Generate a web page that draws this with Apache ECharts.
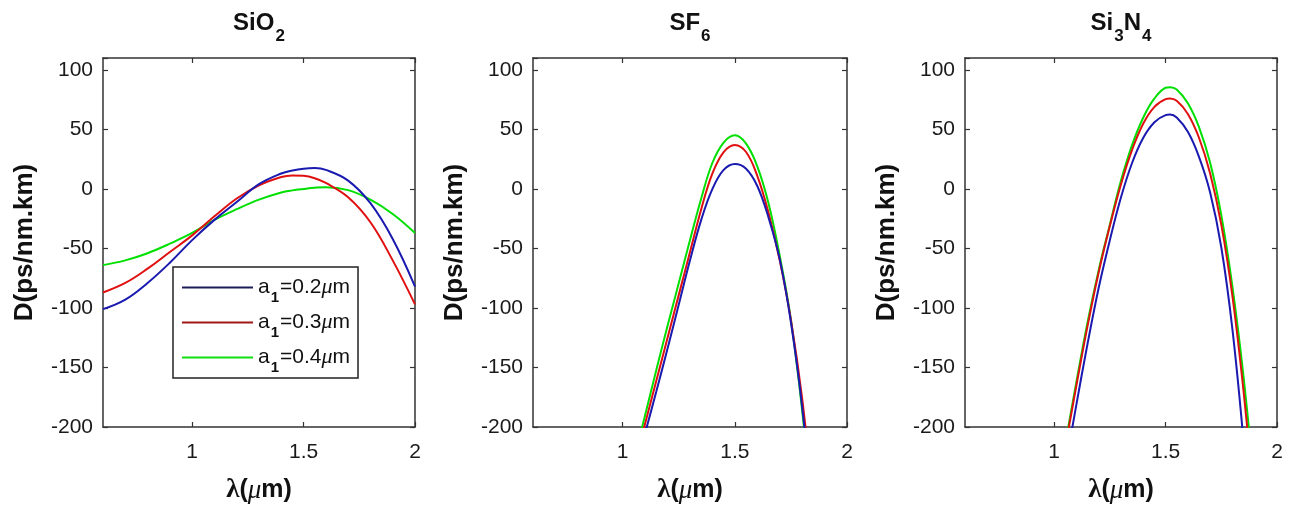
<!DOCTYPE html>
<html>
<head>
<meta charset="utf-8">
<script src="https://cdn.jsdelivr.net/npm/echarts@6/dist/echarts.min.js"></script>
<style>
html,body{margin:0;padding:0;background:#fff;}
#chart{width:1290px;height:510px;}
</style>
</head>
<body>
<div id="chart"></div>
<script>
// ---------- data ----------
const panelTitles = ['{b|SiO}{s|2}', '{b|SF}{s|6}', '{b|Si}{s|3}{b|N}{s|4}'];
const seriesNames = ['a1=0.2μm', 'a1=0.3μm', 'a1=0.4μm'];
const xTicks = [1, 1.5, 2];

// SiO2 panel
const lambdaSiO2 = [0.6, 0.7, 0.8, 0.9, 1.0, 1.1, 1.2, 1.3, 1.4, 1.45, 1.5, 1.55, 1.6, 1.7, 1.8, 1.9, 2.0];
const sio2A02 = [-101, -93, -79, -62, -43, -26, -11, 4, 13, 15.5, 17, 17.5, 16, 7, -12, -42, -82];
const sio2A03 = [-87, -79, -67, -53, -39, -23, -8, 3, 10, 11.3, 11, 9, 5, -7, -28, -60, -97];
const sio2A04 = [-64, -60, -54, -46, -37, -26, -17, -9, -3, -1.2, 0, 1, 1.5, -1, -9, -21, -37];

// SF6 panel
const lambdaSF6 = [1.05, 1.10, 1.15, 1.20, 1.25, 1.30, 1.35, 1.40, 1.45, 1.50, 1.55, 1.60, 1.65, 1.70, 1.75, 1.80, 1.85];
const sf6A02 = [-239, -205, -170, -134, -97, -60, -26, 0, 16, 21, 17, 2.5, -24, -59, -112, -183, -276];
const sf6A03 = [-233, -197, -161, -125, -89, -53, -17, 13, 31, 37, 31, 11, -20, -60, -110, -176, -263];
const sf6A04 = [-228, -190, -152, -115, -79, -43, -8, 22, 39, 45, 38, 19, -12, -56, -110, -186, -280];

// Si3N4 panel
const lambdaSi3N4 = [1.05, 1.10, 1.15, 1.20, 1.25, 1.30, 1.35, 1.40, 1.45, 1.50, 1.52, 1.55, 1.60, 1.65, 1.70, 1.75, 1.80, 1.85, 1.90];
const si3n4A02 = [-234, -181, -130, -83, -43, -7, 22, 43, 56, 62, 62.5, 60, 48, 27, -3, -49, -118, -212, -320];
const si3n4A03 = [-217, -165, -115, -70, -31, 4, 33, 55, 69, 75.4, 76, 74, 63, 43, 13, -30, -90, -170, -268];
const si3n4A04 = [-214, -162, -112, -68, -30, 7, 37, 60, 76, 85, 85.5, 83.5, 72, 52, 22, -22, -82, -158, -252];

// ---------- styling ----------
const SANS = '"Liberation Sans", Arial, Helvetica, sans-serif';
const SERIF = '"Liberation Serif", "Times New Roman", serif';
const lineColors = ['#1a1ab0', '#e01010', '#00e000'];
const legendColors = ['#1c1c5a', '#a01818', '#10e010'];
const axisColor = '#333';

const grids = [
  {left: 103, top: 58, width: 312, height: 369},
  {left: 533, top: 58, width: 314, height: 369},
  {left: 965, top: 58, width: 312, height: 369}
];

const panels = [
  {x: lambdaSiO2, ys: [sio2A02, sio2A03, sio2A04]},
  {x: lambdaSF6, ys: [sf6A02, sf6A03, sf6A04]},
  {x: lambdaSi3N4, ys: [si3n4A02, si3n4A03, si3n4A04]}
];

const xAxes = [], yAxes = [], series = [], titles = [];
grids.forEach((g, i) => {
  const tickBase = {inside: true, length: 5, lineStyle: {color: axisColor, width: 1.2}};
  xAxes.push({
    type: 'value', gridIndex: i, min: 0.6, max: 2, position: 'bottom',
    axisLine: {show: true, onZero: false, lineStyle: {color: axisColor, width: 1.5}},
    axisTick: Object.assign({customValues: xTicks}, tickBase),
    axisLabel: {customValues: xTicks, fontSize: 21, fontFamily: SANS, color: '#1a1a1a', margin: 15},
    splitLine: {show: false},
    name: '{g|λ}{b|(}{u|μ}{b|m)}',
    nameLocation: 'middle', nameGap: 50,
    nameTextStyle: {
      rich: {
        g: {fontFamily: SERIF, fontSize: 27, fontWeight: 'bold', color: '#111'},
        u: {fontFamily: SERIF, fontSize: 27, fontStyle: 'italic', color: '#111'},
        b: {fontFamily: SANS, fontSize: 25, fontWeight: 'bold', color: '#111'}
      }
    }
  });
  yAxes.push({
    type: 'value', gridIndex: i, min: -200, max: 110, interval: 50, position: 'left',
    axisLine: {show: true, onZero: false, lineStyle: {color: axisColor, width: 1.5}},
    axisTick: Object.assign({}, tickBase),
    axisLabel: {fontSize: 21, fontFamily: SANS, color: '#1a1a1a', margin: 10,
      formatter: v => (v > 100 ? '' : String(v))},
    splitLine: {show: false},
    name: 'D(ps/nm.km)', nameLocation: 'middle', nameGap: 65,
    nameTextStyle: {fontFamily: SANS, fontSize: 26, fontWeight: 'bold', color: '#111'}
  });
  titles.push({
    text: panelTitles[i], left: g.left + g.width / 2, textAlign: 'center', top: 9, padding: 0,
    textStyle: {
      rich: {
        b: {fontFamily: SANS, fontSize: 24, fontWeight: 'bold', color: '#111', lineHeight: 28},
        s: {fontFamily: SANS, fontSize: 17, fontWeight: 'bold', color: '#111', lineHeight: 15, padding: [26, 0, 0, 1]}
      }
    }
  });
});
// box: top and right axes with inside ticks
grids.forEach((g, i) => {
  xAxes.push({
    type: 'value', gridIndex: i, min: 0.6, max: 2, position: 'top',
    axisLine: {show: true, onZero: false, lineStyle: {color: axisColor, width: 1.5}},
    axisTick: {inside: true, length: 5, customValues: xTicks, lineStyle: {color: axisColor, width: 1.2}},
    axisLabel: {show: false}, splitLine: {show: false}
  });
  yAxes.push({
    type: 'value', gridIndex: i, min: -200, max: 110, interval: 50, position: 'right',
    axisLine: {show: true, onZero: false, lineStyle: {color: axisColor, width: 1.5}},
    axisTick: {inside: true, length: 5, lineStyle: {color: axisColor, width: 1.2}},
    axisLabel: {show: false}, splitLine: {show: false}
  });
});

panels.forEach((p, i) => {
  p.ys.forEach((vals, k) => {
    series.push({
      type: 'line', name: seriesNames[k], xAxisIndex: i, yAxisIndex: i,
      data: p.x.map((x, j) => [x, vals[j]]),
      smooth: 0.4, symbol: 'none', clip: true,
      lineStyle: {color: lineColors[k], width: 2},
      itemStyle: {color: lineColors[k]},
      z: 3 - k
    });
  });
});

const legendRich = {
  n: {fontFamily: SANS, fontSize: 21, color: '#111', lineHeight: 23},
  u: {fontFamily: SERIF, fontSize: 22, fontStyle: 'italic', color: '#111', lineHeight: 23},
  s: {fontFamily: SANS, fontSize: 15, fontWeight: 'bold', color: '#111', lineHeight: 12, padding: [20, 1, 0, 1]}
};

const option = {
  animation: false,
  backgroundColor: '#fff',
  title: titles,
  grid: grids,
  xAxis: xAxes,
  yAxis: yAxes,
  legend: {
    left: 173, top: 267, orient: 'vertical',
    backgroundColor: '#fff',
    borderColor: '#222', borderWidth: 1.5, borderRadius: 0,
    padding: [3, 8, 3, 8],
    itemWidth: 71, itemHeight: 12, itemGap: 0,
    data: seriesNames.map((n, k) => ({
      name: n,
      itemStyle: {color: 'rgba(0,0,0,0)', borderWidth: 0, opacity: 0},
      lineStyle: {color: legendColors[k], width: 2}
    })),
    formatter: name => '{n|a}{s|1}{n|=' + name.slice(3, 6) + '}{u|μ}{n|m}',
    textStyle: {rich: legendRich}
  },
  series: series
};

const chart = echarts.init(document.getElementById('chart'), null, {renderer: 'canvas'});
chart.setOption(option);
</script>
</body>
</html>
